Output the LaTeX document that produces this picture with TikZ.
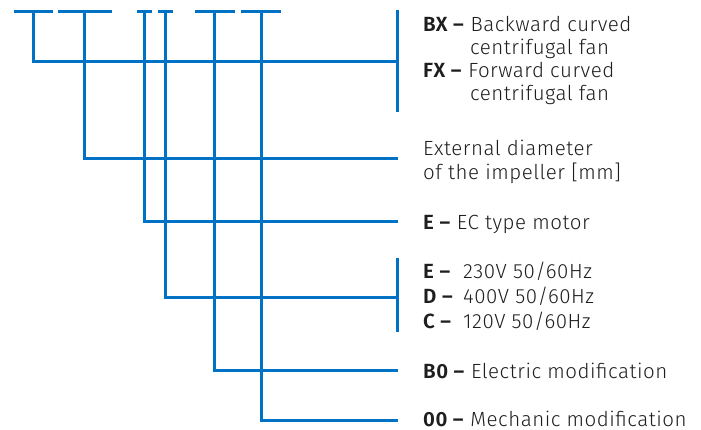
\documentclass[tikz,border=0pt]{standalone}
\usepackage{fontspec}
\setmainfont{Fira Sans}[UprightFont=* Light, BoldFont=* SemiBold, LetterSpace=2.5]
\definecolor{blu}{RGB}{0,114,198}
\definecolor{txt}{RGB}{30,30,30}
\begin{document}
\begin{tikzpicture}[x=1pt,y=-1pt,
  wire/.style={draw=blu,line width=3pt,line cap=butt,line join=miter},
  lbl/.style={anchor=base west,inner sep=0pt,text=txt,font=\fontsize{20.5}{23}\selectfont}]
\useasboundingbox (0,0) rectangle (701,430);
% top bars
\foreach \a/\b/\n in {14/53/1,58/112/2,137/152/3,158/173/4,195/235/5,241/281/6}{
  \coordinate (bl\n) at (\a,12); \coordinate (br\n) at (\b,12);
  \draw[wire] (bl\n) -- (br\n);}
\coordinate (t1) at (33,12);
\coordinate (t2) at (84,12);
\coordinate (t3) at (144,12);
\coordinate (t4) at (165,12);
\coordinate (t5) at (214,12);
\coordinate (t6) at (261,12);
\coordinate (e1) at (397,62);
\coordinate (e2) at (398,159);
\coordinate (e3) at (398,222);
\coordinate (e4) at (397,297);
\coordinate (e5) at (398,370);
\coordinate (e6) at (398,420);
\coordinate (k1a) at (397,10); \coordinate (k1b) at (397,112);
\coordinate (k4a) at (397,258); \coordinate (k4b) at (397,332);
\draw[wire] (k1a) -- (k1b);
\draw[wire] (k4a) -- (k4b);
\foreach \i in {1,...,6}{\draw[wire] (t\i) |- (e\i);}
% labels
\node[lbl] (bx) at (423,32) {\textbf{BX –} Backward curved};
\node[lbl] (bx2) at (470,55) {centrifugal fan};
\node[lbl] (fx) at (423,78) {\textbf{FX –} Forward curved};
\node[lbl] (fx2) at (470,101) {centrifugal fan};
\node[lbl] (ext) at (423,156) {External diameter};
\node[lbl] (ext2) at (423,180) {of the impeller [mm]};
\node[lbl] (ec) at (423,230) {\textbf{E –} EC type motor};
\node[lbl] (ve) at (423,279) {\textbf{E –}};
\node[lbl] (vd) at (423,303) {\textbf{D –}};
\node[lbl] (vc) at (423,328) {\textbf{C –}};
\node[lbl] (ve2) at (463,279) {230V 50/60Hz};
\node[lbl] (vd2) at (463,303) {400V 50/60Hz};
\node[lbl] (vc2) at (463,328) {120V 50/60Hz};
\node[lbl] (b0) at (423,378) {\textbf{B0 –} Electric modification};
\node[lbl] (m0) at (423,426) {\textbf{00 –} Mechanic modification};
\end{tikzpicture}
\end{document}
